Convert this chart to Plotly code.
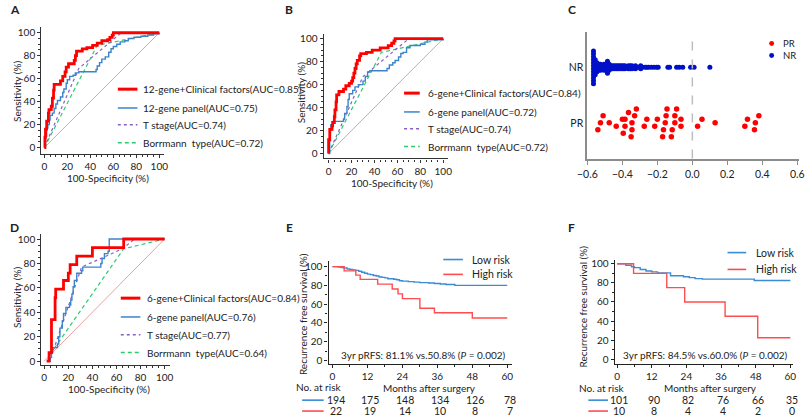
import plotly.graph_objects as go

W, H = 810, 419

# ---------------- data ----------------
# panel A (ROC, 12-gene)
a_combo_x = [0, 0.5, 1, 2, 3.5, 4, 6, 7, 8, 8.5, 14, 16, 18, 19, 21, 26, 27, 28, 33, 37, 42, 46, 50, 55, 57, 59, 60, 100]
a_combo_y = [0, 9, 16, 23, 30, 33, 36, 43, 50, 55, 58, 62, 66, 70, 73, 76, 80, 84, 86, 87, 89, 91, 93, 94, 96, 98, 100, 100]
a_panel_x = [0, 1, 2, 3, 4.3, 5, 7, 8.5, 10, 11.4, 14, 16, 17, 19, 20, 22, 25, 27, 30, 45, 46, 48, 50, 53, 56, 58, 60, 63, 66, 70, 73, 78, 84, 90, 95, 100]
a_panel_y = [0, 10, 17, 20, 24, 28, 30, 34, 38, 41, 44, 48, 51, 56, 59, 62, 63, 65, 66, 68, 71, 74, 77, 79, 83, 86, 88, 90, 92, 93, 95, 96, 97, 98, 99, 100]
a_tstage_x = [0, 30, 67, 100]
a_tstage_y = [0, 69, 100, 100]
a_borr_x = [0, 46, 100]
a_borr_y = [0, 89, 100]
a_names = ["12-gene+Clinical factors(AUC=0.85)", "12-gene panel(AUC=0.75)",
           "T stage(AUC=0.74)", "Borrmann  type(AUC=0.72)"]

# panel B (ROC, 6-gene training)
b_combo_x = [0, 0, 1, 3, 3.5, 5, 5.5, 6.5, 7, 9, 13, 15, 18, 20, 21, 22, 23, 24, 25, 27, 28, 33, 38, 45, 52, 55, 57, 58, 100]
b_combo_y = [0, 12, 21, 24, 27, 32, 38, 45, 51, 54, 56, 59, 61, 63, 66, 70, 74, 78, 81, 85, 87, 88, 90, 92, 94, 96, 98, 100, 100]
b_panel_x = [0, 1, 2, 4, 13, 14, 16, 17, 18, 21, 23, 26, 30, 32, 34, 36, 51, 53, 56, 58, 61, 63, 65, 68, 71, 80, 84, 86, 100]
b_panel_y = [0, 20, 25, 28, 30, 35, 41, 47, 52, 55, 58, 60, 63, 67, 71, 72, 74, 77, 79, 81, 84, 87, 88, 92, 94, 95, 97, 99, 100]
b_tstage_x = [0, 30, 70, 100]
b_tstage_y = [0, 67, 100, 100]
b_borr_x = [0, 46, 100]
b_borr_y = [0, 88, 100]
b_names = ["6-gene+Clinical factors(AUC=0.84)", "6-gene panel(AUC=0.72)",
           "T stage(AUC=0.74)", "Borrmann  type(AUC=0.72)"]

# panel D (ROC, 6-gene validation)
d_combo_x = [2, 4, 6, 9, 9.5, 16, 20, 21.5, 27, 40, 66, 100]
d_combo_y = [0, 7, 34, 52, 59, 66, 72, 79, 86, 93, 100, 100]
d_panel_x = [3, 5, 6, 7, 11, 12, 13, 15, 16, 18, 21, 22, 23, 24, 25, 27, 31, 32, 47, 48, 50, 53, 54, 100]
d_panel_y = [0, 3, 7, 11, 14, 20, 27, 33, 39, 44, 46, 50, 55, 61, 66, 72, 74, 77, 80, 84, 88, 90, 100, 100]
d_tstage_x = [3, 8, 31, 65, 75, 100]
d_tstage_y = [0, 10, 77, 92, 100, 100]
d_borr_x = [3, 8, 66, 100]
d_borr_y = [0, 10, 92, 100]
d_names = ["6-gene+Clinical factors(AUC=0.84)", "6-gene panel(AUC=0.76)",
           "T stage(AUC=0.77)", "Borrmann  type(AUC=0.64)"]

# panel C (dot plot of risk score)
pr_scores = [-0.54, -0.525, -0.51, -0.475, -0.435, -0.40, -0.395, -0.385, -0.385, -0.365,
             -0.35, -0.345, -0.345, -0.33, -0.32, -0.275, -0.26, -0.215, -0.20, -0.17,
             -0.165, -0.155, -0.15, -0.145, -0.12, -0.115, -0.10, -0.10, -0.09, -0.065,
             -0.065, 0.03, 0.055, 0.13, 0.30, 0.315, 0.355, 0.36, 0.38]
nr_levels = [-0.565, -0.555, -0.545, -0.535, -0.525, -0.515, -0.505, -0.495, -0.485, -0.475,
             -0.465, -0.455, -0.445, -0.435, -0.425, -0.415, -0.405, -0.395, -0.385, -0.375,
             -0.365, -0.355, -0.345, -0.335, -0.325, -0.315, -0.305, -0.295, -0.285, -0.27,
             -0.26, -0.25, -0.235, -0.22, -0.205, -0.195, -0.14, -0.13, -0.09, -0.075,
             -0.055, -0.01, 0.01, 0.10]
nr_counts = [12, 6, 4, 3, 3, 2, 3, 3, 5, 3,
             2, 2, 2, 2, 2, 2, 2, 2, 2, 1,
             2, 2, 2, 1, 2, 1, 1, 2, 1, 1,
             1, 1, 1, 1, 1, 1, 1, 1, 1, 1,
             1, 1, 1, 1]

# panel E (KM, training)
e_low_t = [0, 2, 3, 4, 5, 6, 7, 8, 9, 10, 11, 12, 13, 14, 15, 16, 17, 18, 19, 21, 22, 23, 24, 26, 28, 30, 33, 35, 37, 39, 42, 60]
e_low_s = [100, 99.5, 99, 98.5, 97.5, 97, 96.5, 96, 95, 94, 93, 92, 91.5, 90.5, 90, 89, 88.5, 88, 87, 86.5, 86, 85, 84.5, 84, 83.5, 83, 82.5, 82, 81.5, 81, 80, 80]
e_high_t = [0, 4, 8, 9.5, 15.5, 20.5, 22.5, 24, 30, 35, 48, 60]
e_high_s = [100, 95.5, 90.9, 86.4, 81.4, 76.2, 71.0, 65.9, 55.6, 50.8, 45.2, 45.2]
e_risk_low = [194, 175, 148, 134, 126, 78]
e_risk_high = [22, 19, 14, 10, 8, 7]

# panel F (KM, validation)
f_low_t = [0, 3, 5, 6, 8, 10, 12, 14, 18.5, 23, 25, 27, 29.5, 47.5, 60]
f_low_s = [100, 98.5, 97, 96, 94, 92.5, 91.5, 90.5, 87.5, 86.5, 85.5, 84.5, 84, 82.5, 82.5]
f_high_t = [0, 5.7, 17.2, 23.4, 37.4, 48.7, 60]
f_high_s = [100, 90, 75, 60, 45, 22.5, 22.5]
f_risk_low = [101, 90, 82, 76, 66, 35]
f_risk_high = [10, 8, 4, 4, 2, 0]

months = [0, 12, 24, 36, 48, 60]

# ---------------- styles ----------------
RED = "#ff0000"
BLUE = "#3b84cc"
PURPLE = "#8a5cc8"
GREEN = "#2ecc71"
DIAG = "#e2a3a0"
KM_BLUE = "#3b8bd6"
KM_RED = "#ff4d4d"
TXT = "#222222"
FONT = "Lato"
FS = 10

fig = go.Figure()
annotations = []
shapes = []


def px(x):
    return x / W


def py(y):
    return 1 - y / H


def text(x, y, s, size=FS, anchor="center", angle=0, bold=False):
    annotations.append(dict(
        x=px(x), y=py(y), xref="paper", yref="paper",
        text=f"<b>{s}</b>" if bold else s, showarrow=False, textangle=angle,
        xanchor=anchor, yanchor="middle", font=dict(size=size, color=TXT, family=FONT)))


def add_line(x, y, n, color, width, dash="solid", shape="linear"):
    fig.add_trace(go.Scatter(
        x=x, y=y, xaxis=f"x{n}", yaxis=f"y{n}", mode="lines",
        line=dict(color=color, width=width, dash=dash, shape=shape),
        showlegend=False, hoverinfo="skip"))


def axis_style(dom, rng, anchor, tickvals, minorvals, color="#333333", lw=1.3):
    return dict(domain=dom, range=rng, anchor=anchor, showline=True, linecolor=color,
                linewidth=lw, ticks="outside", ticklen=3, tickwidth=1, tickcolor=color,
                tickvals=tickvals, tickfont=dict(size=FS, color=TXT, family=FONT),
                showgrid=False, zeroline=False, fixedrange=True,
                minor=dict(ticks="outside", ticklen=2, tickcolor=color, tickvals=minorvals))


def legend_rows(names, styles, x0, x1, xt, ys, size=10):
    for name, (color, width, dash), y in zip(names, styles, ys):
        shapes.append(dict(type="line", xref="paper", yref="paper", x0=px(x0), x1=px(x1),
                           y0=py(y), y1=py(y), line=dict(color=color, width=width, dash=dash)))
        text(xt, y, name, size=size, anchor="left")


roc_styles = [(RED, 3, "solid"), (BLUE, 1.5, "solid"), (PURPLE, 1.5, "dot"), (GREEN, 1.5, "4px,3px")]
roc_ticks = list(range(0, 101, 20))
roc_minor = list(range(0, 101, 5))


def roc_panel(n, xdom, ydom, xr, yr, data):
    fig.update_layout(**{
        f"xaxis{n}": axis_style([px(xdom[0]), px(xdom[1])], xr, f"y{n}", roc_ticks, roc_minor),
        f"yaxis{n}": axis_style([py(ydom[1]), py(ydom[0])], yr, f"x{n}", roc_ticks, roc_minor),
    })
    combo_x, combo_y, panel_x, panel_y, ts_x, ts_y, bo_x, bo_y = data
    add_line([0, 100], [0, 100], n, DIAG, 1)
    add_line(bo_x, bo_y, n, GREEN, 1.2, "4px,3px")
    add_line(ts_x, ts_y, n, PURPLE, 1.2, "dot")
    add_line(panel_x, panel_y, n, BLUE, 1.4, shape="hv")
    add_line(combo_x, combo_y, n, RED, 2.8, shape="hv")


# A
roc_panel("", (32, 157), (25, 153), [-2.6, 104], [-5.2, 105.2],
          (a_combo_x, a_combo_y, a_panel_x, a_panel_y, a_tstage_x, a_tstage_y, a_borr_x, a_borr_y))
legend_rows(a_names, roc_styles, 110, 130, 134, [88, 107, 124, 142])
text(100, 178, "100-Specificity (%)")
text(7, 90, "Sensitivity (%)", angle=-90)

# B
roc_panel(2, (320, 447), (32, 158), [-4.3, 104.3], [-4.3, 104.3],
          (b_combo_x, b_combo_y, b_panel_x, b_panel_y, b_tstage_x, b_tstage_y, b_borr_x, b_borr_y))
legend_rows(b_names, roc_styles, 402, 418, 424, [92, 111, 128, 146])
text(390, 183, "100-Specificity (%)")
text(297, 92, "Sensitivity (%)", angle=-90)

# D
roc_panel(4, (32, 163), (234, 366), [-2.4, 104.3], [-2.8, 104.3],
          (d_combo_x, d_combo_y, d_panel_x, d_panel_y, d_tstage_x, d_tstage_y, d_borr_x, d_borr_y))
legend_rows(d_names, roc_styles, 113, 133, 138, [299, 318, 336, 354])
text(101, 391, "100-Specificity (%)")
text(7, 298, "Sensitivity (%)", angle=-90)


# C: beeswarm-like dot plot
def stack_offsets(values, width, step_px, px_per_unit):
    order = sorted(range(len(values)), key=lambda i: values[i])
    groups, current, start = [], [], None
    for i in order:
        if current and values[i] - start > width:
            groups.append(current)
            current = []
        if not current:
            start = values[i]
        current.append(i)
    if current:
        groups.append(current)
    offsets = [0.0] * len(values)
    for g in groups:
        k = len(g)
        for j, i in enumerate(g):
            offsets[i] = (j - (k - 1) / 2) * step_px / px_per_unit
    return offsets


nr_scores = [v for v, c in zip(nr_levels, nr_counts) for _ in range(c)]
c_px_per_unit = 56.0
pr_off = stack_offsets(pr_scores, 0.035, 7, c_px_per_unit)
nr_off = stack_offsets(nr_scores, 0.008, 3, c_px_per_unit)

fig.update_layout(
    xaxis3=dict(domain=[px(589), px(805)], range=[-0.6, 0.61], anchor="y3", showline=True,
                linecolor="#8c8c8c", linewidth=2, ticks="outside", ticklen=4, tickcolor="#8c8c8c",
                tickvals=[-0.6, -0.4, -0.2, 0.0, 0.2, 0.4, 0.6], tickformat=".1f",
                tickfont=dict(size=10.5, color=TXT, family=FONT), showgrid=False, zeroline=False),
    yaxis3=dict(domain=[py(159), py(30)], range=[0.34, 2.64], anchor="x3", showline=True,
                linecolor="#8c8c8c", linewidth=2, ticks="", tickvals=[1, 2], ticktext=["PR", "NR"],
                tickfont=dict(size=10.5, color=TXT, family=FONT), showgrid=False, zeroline=False),
)
shapes.append(dict(type="line", xref="x3", yref="paper", x0=0, x1=0, y0=py(158), y1=py(32),
                   line=dict(color="#bdbdbd", width=1.5, dash="dash")))
fig.add_trace(go.Scatter(x=nr_scores, y=[2 + o for o in nr_off], xaxis="x3", yaxis="y3",
                         mode="markers", marker=dict(color="#0010c8", size=5),
                         showlegend=False, hoverinfo="skip"))
fig.add_trace(go.Scatter(x=pr_scores, y=[1 + o for o in pr_off], xaxis="x3", yaxis="y3",
                         mode="markers", marker=dict(color="#ff0000", size=5.5),
                         showlegend=False, hoverinfo="skip"))
for lab, col, y in [("PR", "#ff0000", 42), ("NR", "#0010c8", 54)]:
    shapes.append(dict(type="circle", xref="paper", yref="paper", x0=px(774.5), x1=px(779.5),
                       y0=py(y + 2.5), y1=py(y - 2.5), fillcolor=col, line=dict(width=0)))
    text(787, y, lab, size=9.5, anchor="left")

# E and F: Kaplan-Meier
km_ticks_y = list(range(0, 101, 20))
km_minor_y = list(range(0, 101, 10))
km_minor_x = list(range(0, 61, 6))


def km_panel(n, xdom, ydom, xr, yr, low_t, low_s, high_t, high_s):
    fig.update_layout(**{
        f"xaxis{n}": axis_style([px(xdom[0]), px(xdom[1])], xr, f"y{n}", months, km_minor_x, "#222222"),
        f"yaxis{n}": axis_style([py(ydom[1]), py(ydom[0])], yr, f"x{n}", km_ticks_y, km_minor_y, "#222222"),
    })
    add_line(low_t, low_s, n, KM_BLUE, 1.4, shape="hv")
    add_line(high_t, high_s, n, KM_RED, 1.4, shape="hv")


def risk_rows(n, rows, x0, x1, shift):
    for vals, y, col in rows:
        shapes.append(dict(type="line", xref="paper", yref="paper", x0=px(x0), x1=px(x1),
                           y0=py(y), y1=py(y), line=dict(color=col, width=1.6)))
        for m, v in zip(months, vals):
            annotations.append(dict(x=m, y=py(y), xref=f"x{n}", yref="paper", text=str(v),
                                    showarrow=False, xshift=shift, xanchor="center", yanchor="middle",
                                    font=dict(size=10.5, color=TXT, family=FONT)))


km_panel(5, (325, 512), (261, 365), [-1.35, 61.6], [-3.2, 106.5], e_low_t, e_low_s, e_high_t, e_high_s)
legend_rows(["Low risk", "High risk"], [(KM_BLUE, 1.6, "solid"), (KM_RED, 1.6, "solid")],
            442, 462, 469, [260, 275], size=10.5)
text(336, 356, "3yr pRFS: 81.1% vs.50.8% (<i>P</i> = 0.002)", anchor="left")
text(299, 315, "Recurrence free survival (%)", angle=-90)
text(428, 390, "Months after surgery")
text(290, 389, "No. at risk", anchor="left")
risk_rows(5, [(e_risk_low, 402, KM_BLUE), (e_risk_high, 413, KM_RED)], 298, 320, 3)

km_panel(6, (617, 799), (260, 365), [-0.8, 61], [-4.5, 104.5], f_low_t, f_low_s, f_high_t, f_high_s)
legend_rows(["Low risk", "High risk"], [(KM_BLUE, 1.6, "solid"), (KM_RED, 1.6, "solid")],
            732, 751, 759, [253, 270], size=10.5)
text(623, 356, "3yr pRFS: 84.5% vs.60.0% (<i>P</i> = 0.002)", anchor="left")
text(585, 307, "Recurrence free survival (%)", angle=-90)
text(715, 390, "Months after surgery")
text(578, 390, "No. at risk", anchor="left")
risk_rows(6, [(f_risk_low, 402, KM_BLUE), (f_risk_high, 413, KM_RED)], 590, 610, 2)

# panel letters
for lab, x, y in [("A", 5, 8), ("B", 285, 8), ("C", 573, 8), ("D", 5, 228), ("E", 285, 228), ("F", 573, 228)]:
    text(x, y, lab, size=12, bold=True)

fig.update_layout(width=W, height=H, margin=dict(l=0, r=0, t=0, b=0),
                  paper_bgcolor="white", plot_bgcolor="white",
                  font=dict(family=FONT, size=FS, color=TXT),
                  annotations=annotations, shapes=shapes, showlegend=False)

# drop the default page margin so the figure sits at the window's top-left corner
fig.write_html("out.html", config={"displayModeBar": False},
               post_script="document.body.style.margin='0';")
